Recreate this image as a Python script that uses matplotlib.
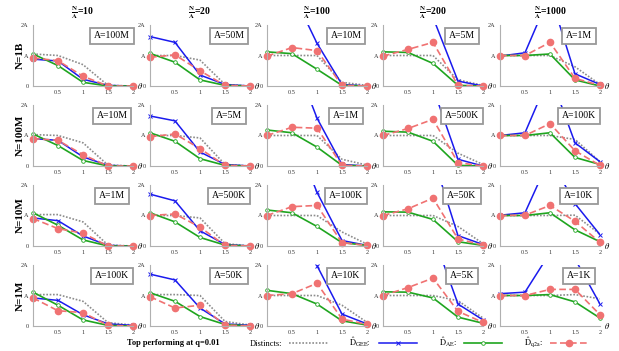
import matplotlib
matplotlib.use("Agg")
import matplotlib.pyplot as plt
from matplotlib.lines import Line2D
import numpy as np

plt.rcParams['font.family'] = ['Liberation Serif', 'DejaVu Serif']
plt.rcParams['mathtext.fontset'] = 'stix'

# Data (values in units of A)
theta = [0, 0.5, 1, 1.5, 2]
ratios = ['10', '20', '100', '200', '1000']
n_labels = ['1B', '100M', '10M', '1M']
a_labels = [['100M', '50M', '10M', '5M', '1M'],
            ['10M', '5M', '1M', '500K', '100K'],
            ['1M', '500K', '100K', '50K', '10K'],
            ['100K', '50K', '10K', '5K', '1K']]

distincts = [
    [[1.05, 1.0, 0.7, 0.02, 0.0], [1.0, 1.0, 0.85, 0.05, 0.0], [1.0, 1.0, 1.0, 0.12, 0.02],
     [1.0, 1.0, 1.0, 0.2, 0.02], [1.0, 1.0, 1.0, 0.63, 0.05]],
    [[1.03, 1.0, 0.76, 0.03, 0.0], [1.0, 1.0, 0.92, 0.05, 0.0], [1.0, 1.0, 1.0, 0.22, 0.03],
     [1.0, 1.0, 1.0, 0.42, 0.05], [1.0, 1.0, 1.0, 0.87, 0.14]],
    [[1.03, 1.03, 0.79, 0.03, 0.0], [1.0, 1.0, 0.92, 0.08, 0.0], [1.0, 1.0, 1.0, 0.46, 0.06],
     [1.0, 1.0, 1.0, 0.64, 0.08], [1.0, 1.0, 1.0, 1.01, 0.39]],
    [[1.03, 1.03, 0.81, 0.11, 0.03], [1.03, 1.03, 1.0, 0.15, 0.03], [1.0, 1.0, 1.0, 0.68, 0.12],
     [1.0, 1.0, 1.0, 0.83, 0.26], [1.0, 1.0, 1.0, 1.03, 0.89]],
]

gee = [
    [[0.88, 0.82, 0.22, 0.02, 0.0], [1.62, 1.43, 0.36, 0.05, 0.0], [4.5, 3.1, 1.4, 0.05, 0.0],
     [5.0, 4.0, 2.25, 0.16, 0.0], [0.98, 1.09, 3.0, 0.4, 0.05]],
    [[0.9, 0.84, 0.3, 0.02, 0.0], [1.64, 1.48, 0.46, 0.05, 0.0], [5.0, 3.7, 1.57, 0.05, 0.0],
     [5.0, 4.0, 2.56, 0.22, 0.0], [1.0, 1.09, 3.0, 0.76, 0.14]],
    [[0.92, 0.83, 0.33, 0.02, 0.0], [1.7, 1.48, 0.5, 0.05, 0.0], [5.0, 3.8, 1.76, 0.18, 0.02],
     [5.0, 4.0, 2.93, 0.34, 0.05], [1.01, 1.09, 2.9, 1.39, 0.37]],
    [[0.92, 0.84, 0.37, 0.07, 0.02], [1.7, 1.51, 0.59, 0.07, 0.02], [5.0, 3.0, 1.98, 0.39, 0.07],
     [5.0, 4.0, 3.0, 0.72, 0.2], [1.06, 1.11, 2.4, 2.2, 0.72]],
]

ae = [
    [[1.05, 0.67, 0.12, 0.0, 0.0], [1.07, 0.78, 0.2, 0.02, 0.0], [1.12, 1.06, 0.55, 0.02, 0.0],
     [1.12, 1.1, 0.74, 0.02, 0.0], [1.0, 1.0, 1.05, 0.2, 0.0]],
    [[1.05, 0.67, 0.18, 0.0, 0.0], [1.09, 0.81, 0.24, 0.02, 0.0], [1.18, 1.09, 0.62, 0.02, 0.0],
     [1.14, 1.11, 0.81, 0.02, 0.0], [1.0, 1.0, 1.09, 0.28, 0.05]],
    [[1.09, 0.68, 0.2, 0.0, 0.0], [1.09, 0.79, 0.28, 0.03, 0.0], [1.18, 1.09, 0.64, 0.11, 0.02],
     [1.12, 1.11, 0.87, 0.14, 0.02], [1.0, 1.0, 1.09, 0.53, 0.14]],
    [[1.11, 0.68, 0.2, 0.02, 0.0], [1.09, 0.81, 0.31, 0.05, 0.0], [1.17, 1.06, 0.72, 0.17, 0.03],
     [1.12, 1.11, 0.92, 0.29, 0.09], [1.0, 1.0, 1.03, 0.79, 0.26]],
]

q2a = [
    [[0.92, 0.83, 0.32, 0.0, 0.0], [0.94, 1.02, 0.5, 0.02, 0.0], [0.98, 1.26, 1.16, 0.02, 0.0],
     [0.98, 1.2, 1.43, 0.02, 0.0], [1.0, 1.0, 1.43, 0.25, 0.02]],
    [[0.9, 0.84, 0.37, 0.0, 0.0], [0.96, 1.05, 0.57, 0.02, 0.0], [1.0, 1.27, 1.24, 0.02, 0.0],
     [1.0, 1.23, 1.53, 0.11, 0.0], [1.0, 1.0, 1.39, 0.5, 0.02]],
    [[0.9, 0.57, 0.42, 0.0, 0.0], [1.0, 1.05, 0.62, 0.02, 0.0], [1.0, 1.29, 1.33, 0.11, 0.02],
     [1.0, 1.22, 1.57, 0.23, 0.03], [1.0, 1.01, 1.33, 0.81, 0.12]],
    [[0.92, 0.5, 0.44, 0.02, 0.0], [0.96, 0.59, 0.68, 0.03, 0.0], [1.0, 1.06, 1.4, 0.23, 0.05],
     [1.0, 1.26, 1.57, 0.48, 0.12], [1.0, 1.0, 1.2, 1.2, 0.37]],
]

styles = [
    (distincts, dict(color='#8c8c8c', ls=(0, (1, 1)), lw=1.2, marker=None)),
    (gee, dict(color='#1a1aee', ls='-', lw=1.1, marker='x', ms=3, mew=0.7)),
    (ae, dict(color='#1fa51f', ls='-', lw=1.2, marker='o', ms=2.6, mfc='white', mew=0.6)),
    (q2a, dict(color='#f07272', ls=(0, (4, 2)), lw=1.2, marker='o', ms=4.5)),
]

W, H = 619, 351
fig = plt.figure(figsize=(W / 100, H / 100), dpi=100)

lefts = [33, 150, 267, 383, 500]
tops = [25, 105, 185, 265]
aw, ah = 100, 61

x = np.array(theta)
for r in range(4):
    for c in range(5):
        ax = fig.add_axes([lefts[c] / W, 1 - (tops[r] + ah) / H, aw / W, ah / H])
        for data, st in styles:
            y = np.array(data[r][c])
            kw = {k: v for k, v in st.items() if k not in ('marker', 'ms', 'mfc', 'mew')}
            ax.plot(x, y, **kw)
            if st['marker'] is not None:
                m = y <= 2.0
                ax.plot(x[m], y[m], ls='none', color=st['color'], marker=st['marker'],
                        ms=st['ms'], mfc=st.get('mfc', st['color']), mew=st.get('mew', 1),
                        clip_on=False)
        ax.set_xlim(0, 2)
        ax.set_ylim(0, 2)
        ax.set_xticks([0.5, 1, 1.5, 2])
        ax.set_xticklabels(['0.5', '1', '1.5', '2'])
        ax.set_yticks([0, 1, 2])
        ax.set_yticklabels(['0', 'A', '2A'])
        ax.tick_params(length=0, labelsize=4.5, pad=3, colors='#333333')
        for s in ['top', 'right']:
            ax.spines[s].set_visible(False)
        for s in ['left', 'bottom']:
            ax.spines[s].set_color('#b0b0b0')
            ax.spines[s].set_linewidth(0.8)
        ax.text(2.08, 0.0, r'$\theta$', fontsize=6, ha='left', va='center', clip_on=False)
        ax.text(0.79, 0.82, 'A=' + a_labels[r][c], transform=ax.transAxes, fontsize=7,
                ha='center', va='center',
                bbox=dict(boxstyle='square,pad=0.4', fc='white', ec='#999999', lw=1.3))

# column headers
for c in range(5):
    cx = (lefts[c] + aw / 2) / W
    fig.text(cx, 1 - 13 / H, r'$\mathbf{\frac{N}{A}}$' + '=' + ratios[c],
             fontsize=7, fontweight='bold', ha='center', va='center')

# row labels
for r in range(4):
    cy = 1 - (tops[r] + ah / 2) / H
    fig.text(20 / W, cy, 'N=' + n_labels[r], fontsize=8, fontweight='bold',
             rotation=90, ha='center', va='center')

# legend
fig.text(173 / W, 1 - 343 / H, 'Top performing at q=0.01', fontsize=6, fontweight='bold',
         ha='center', va='center')
handles = []
for data, st in styles:
    handles.append(Line2D([], [], color=st['color'], ls=st['ls'], lw=st['lw'],
                          marker=st['marker'], ms=st.get('ms', 0),
                          mfc=st.get('mfc', st['color']), mew=st.get('mew', 1)))
labels = ['Distincts:', r'$\hat{\mathrm{D}}_{\mathrm{GEE}}$:', r'$\hat{\mathrm{D}}_{\mathrm{AE}}$:',
          r'$\hat{\mathrm{D}}_{\mathrm{q2a}}$:']
fig.legend(handles, labels, ncol=4, markerfirst=False, frameon=False, fontsize=6,
           handlelength=4.6, columnspacing=2.6, handletextpad=0.9,
           loc='center', bbox_to_anchor=(419 / W, 1 - 343 / H))

fig.savefig('out.png', dpi=100)
